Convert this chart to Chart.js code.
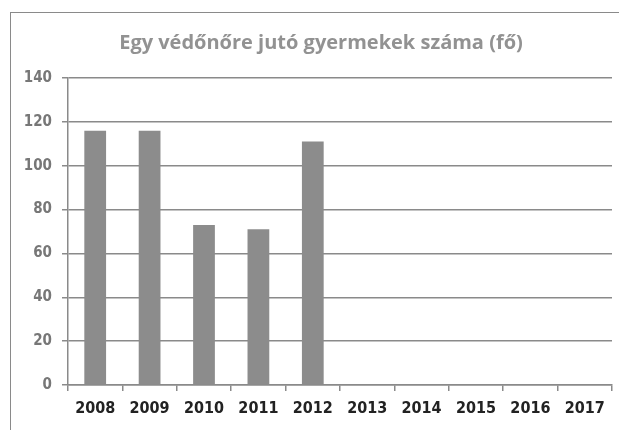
<!DOCTYPE html>
<html>
<head>
<meta charset="utf-8">
<script src="https://cdn.jsdelivr.net/npm/chart.js@4/dist/chart.umd.min.js"></script>
<style>
  html, body { margin: 0; padding: 0; background: #fff; overflow: hidden; }
  #keret { position: absolute; left: 10px; top: 12px; width: 700px; height: 500px;
           border-left: 1px solid #8a8a8a; border-top: 1px solid #8a8a8a; }
  #doboz { position: absolute; left: 0; top: 0; width: 619px; height: 430px; }
</style>
</head>
<body>
<div id="keret"></div>
<div id="doboz"><canvas id="grafikon"></canvas></div>
<script>
// Adatok
const evek = ['2008', '2009', '2010', '2011', '2012', '2013', '2014', '2015', '2016', '2017'];
const gyermekek = [116, 116, 73, 71, 111, null, null, null, null, null];
const cim = 'Egy védőnőre jutó gyermekek száma (fő)';

const ctx = document.getElementById('grafikon').getContext('2d');

// A cím a keret közepére kerül (nem a rajzterület közepére)
const cimRajzolo = {
  id: 'cimRajzolo',
  afterDraw(chart) {
    const c = chart.ctx;
    c.save();
    c.font = 'bold 20px "Open Sans"';
    c.fillStyle = '#929292';
    c.textAlign = 'center';
    c.textBaseline = 'middle';
    c.fillText(cim, (10 + chart.width + 13) / 2, 43);
    c.restore();
  }
};

new Chart(ctx, {
  type: 'bar',
  data: {
    labels: evek,
    datasets: [{
      data: gyermekek,
      backgroundColor: '#8c8c8c',
      borderWidth: 0,
      categoryPercentage: 1,
      barPercentage: 0.4
    }]
  },
  options: {
    responsive: true,
    maintainAspectRatio: false,
    animation: false,
    layout: { padding: { left: 0, right: 7, top: 78, bottom: 0 } },
    plugins: {
      legend: { display: false },
      tooltip: { enabled: false },
      title: { display: false }
    },
    scales: {
      x: {
        grid: { drawOnChartArea: false, drawTicks: true, tickLength: 6, color: '#8a8a8a', lineWidth: 1.5 },
        border: { color: '#8a8a8a', width: 1.5 },
        ticks: { color: '#222', font: { family: 'DejaVu Sans Condensed', size: 16, weight: 'bold' }, padding: 8 },
        afterFit(scale) { scale.height = 45; }
      },
      y: {
        min: 0,
        max: 140,
        ticks: { stepSize: 20, color: '#777', font: { family: 'DejaVu Sans Condensed', size: 15, weight: 'bold' }, padding: 10 },
        grid: { color: '#8a8a8a', lineWidth: 1.5, tickLength: 6 },
        border: { color: '#8a8a8a', width: 1.5 },
        afterFit(scale) { scale.width = 68; }
      }
    }
  },
  plugins: [cimRajzolo]
});
</script>
</body>
</html>
